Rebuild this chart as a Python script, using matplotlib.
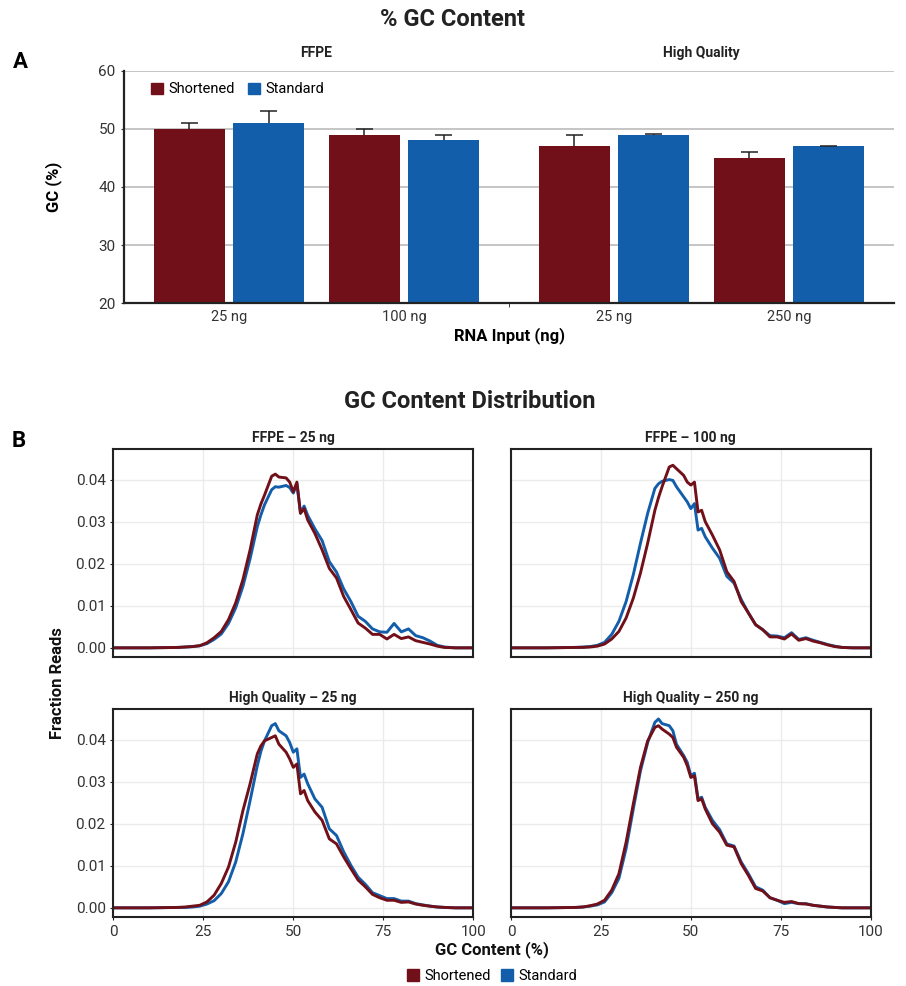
import numpy as np
import matplotlib
matplotlib.use("Agg")
import matplotlib.pyplot as plt
from matplotlib.patches import Patch

plt.rcParams["font.family"] = ["Roboto", "DejaVu Sans"]

# ── colours ───────────────────────────────────────────────
RED = "#721019"
BLUE = "#135EAB"
DARK = "#222222"
GRID_A = "#b5b5b5"
GRID_B = "#ebebeb"

# ── Panel A data ──────────────────────────────────────────
groups = ["25 ng", "100 ng", "25 ng", "250 ng"]
facet_names = ["FFPE", "High Quality"]
short_mean = [50.0, 48.9, 47.0, 45.0]
short_err = [1.0, 1.1, 2.0, 1.0]
std_mean = [51.0, 48.1, 48.9, 47.0]
std_err = [2.0, 0.9, 0.15, 0.1]

# ── Panel B data (fraction of reads per GC bin) ───────────
gc_x = [0, 10, 18, 20, 22, 24, 26, 28, 30, 32, 34, 36, 38, 40, 41, 42, 44, 45, 46,
        48, 49, 50, 51, 52, 53, 54, 56, 58, 60, 62, 64, 66, 68, 70, 72, 74, 76,
        78, 80, 82, 84, 86, 88, 90, 92, 95, 100]

ffpe25_short = [0, 0, 0.0001, 0.0002, 0.0003, 0.0005, 0.0012, 0.0024, 0.0039, 0.0067,
                0.0107, 0.0162, 0.0233, 0.0316, 0.0342, 0.0363, 0.0408, 0.0413, 0.0406,
                0.0404, 0.0394, 0.0371, 0.0394, 0.0320, 0.0331, 0.0304, 0.0272, 0.0233,
                0.0189, 0.0166, 0.0122, 0.0091, 0.0059, 0.0047, 0.0032, 0.0032, 0.0021,
                0.0032, 0.0022, 0.0026, 0.0017, 0.0013, 0.0009, 0.0004, 0.0001, 0, 0]
ffpe25_std = [0, 0, 0.0001, 0.0002, 0.0003, 0.0005, 0.0010, 0.0020, 0.0033, 0.0058,
              0.0095, 0.0146, 0.0212, 0.0288, 0.0316, 0.0340, 0.0376, 0.0383, 0.0382,
              0.0386, 0.0381, 0.0368, 0.0390, 0.0320, 0.0337, 0.0315, 0.0283, 0.0255,
              0.0205, 0.0180, 0.0140, 0.0110, 0.0075, 0.0063, 0.0045, 0.0038, 0.0037,
              0.0058, 0.0038, 0.0045, 0.0029, 0.0024, 0.0016, 0.0006, 0.0002, 0, 0]

ffpe100_short = [0, 0, 0.0001, 0.0001, 0.0002, 0.0004, 0.0009, 0.0021, 0.0039, 0.0071,
                 0.0118, 0.0178, 0.0249, 0.0327, 0.0357, 0.0383, 0.0430, 0.0434, 0.0426,
                 0.0410, 0.0394, 0.0387, 0.0394, 0.0323, 0.0327, 0.0300, 0.0268, 0.0233,
                 0.0181, 0.0158, 0.0110, 0.0083, 0.0055, 0.0043, 0.0026, 0.0026, 0.0021,
                 0.0033, 0.0018, 0.0022, 0.0016, 0.0012, 0.0007, 0.0003, 0.0001, 0, 0]
ffpe100_std = [0, 0, 0.0001, 0.0002, 0.0003, 0.0006, 0.0013, 0.0032, 0.0063, 0.0110,
               0.0174, 0.0249, 0.0320, 0.0379, 0.0390, 0.0396, 0.0400, 0.0398, 0.0383,
               0.0359, 0.0347, 0.0331, 0.0343, 0.0280, 0.0284, 0.0264, 0.0237, 0.0213,
               0.0170, 0.0154, 0.0115, 0.0083, 0.0055, 0.0043, 0.0029, 0.0028, 0.0024,
               0.0036, 0.0020, 0.0024, 0.0018, 0.0013, 0.0008, 0.0004, 0.0001, 0, 0]

hq25_short = [0, 0, 0.0001, 0.0002, 0.0004, 0.0006, 0.0014, 0.0030, 0.0058, 0.0097,
              0.0156, 0.0231, 0.0295, 0.0366, 0.0385, 0.0397, 0.0405, 0.0409, 0.0389,
              0.0370, 0.0354, 0.0334, 0.0342, 0.0271, 0.0279, 0.0255, 0.0228, 0.0208,
              0.0164, 0.0152, 0.0121, 0.0093, 0.0066, 0.0050, 0.0032, 0.0024, 0.0018,
              0.0018, 0.0013, 0.0014, 0.0009, 0.0006, 0.0004, 0.0002, 0.0001, 0, 0]
hq25_std = [0, 0, 0.0001, 0.0001, 0.0002, 0.0004, 0.0009, 0.0017, 0.0034, 0.0062,
            0.0109, 0.0176, 0.0255, 0.0338, 0.0372, 0.0397, 0.0433, 0.0438, 0.0421,
            0.0409, 0.0393, 0.0370, 0.0378, 0.0310, 0.0318, 0.0295, 0.0259, 0.0239,
            0.0188, 0.0172, 0.0133, 0.0101, 0.0073, 0.0056, 0.0036, 0.0029, 0.0022,
            0.0022, 0.0016, 0.0016, 0.0010, 0.0007, 0.0004, 0.0002, 0.0001, 0, 0]

hq250_short = [0, 0, 0.0001, 0.0002, 0.0005, 0.0009, 0.0018, 0.0042, 0.0081, 0.0156,
               0.0247, 0.0334, 0.0397, 0.0429, 0.0433, 0.0425, 0.0413, 0.0405, 0.0382,
               0.0358, 0.0338, 0.0310, 0.0314, 0.0255, 0.0259, 0.0235, 0.0200, 0.0180,
               0.0149, 0.0145, 0.0105, 0.0077, 0.0046, 0.0040, 0.0024, 0.0018, 0.0013,
               0.0015, 0.0010, 0.0009, 0.0006, 0.0004, 0.0002, 0.0001, 0, 0, 0]
hq250_std = [0, 0, 0.0001, 0.0002, 0.0004, 0.0007, 0.0014, 0.0036, 0.0070, 0.0141,
             0.0235, 0.0326, 0.0393, 0.0441, 0.0449, 0.0438, 0.0433, 0.0421, 0.0389,
             0.0362, 0.0346, 0.0314, 0.0320, 0.0259, 0.0263, 0.0239, 0.0208, 0.0186,
             0.0152, 0.0147, 0.0109, 0.0081, 0.0050, 0.0042, 0.0024, 0.0018, 0.0010,
             0.0013, 0.0010, 0.0010, 0.0006, 0.0004, 0.0002, 0.0001, 0, 0, 0]

panels = [
    ("FFPE – 25 ng", ffpe25_short, ffpe25_std),
    ("FFPE – 100 ng", ffpe100_short, ffpe100_std),
    ("High Quality – 25 ng", hq25_short, hq25_std),
    ("High Quality – 250 ng", hq250_short, hq250_std),
]

# ── Figure, laid out in pixels ────────────────────────────
W, H = 906, 986
fig = plt.figure(figsize=(W / 100, H / 100), dpi=100, facecolor="white")


def px_axes(left, top, right, bottom):
    return fig.add_axes([left / W, 1 - bottom / H, (right - left) / W, (bottom - top) / H])


# ── A: bar chart ──────────────────────────────────────────
axA = px_axes(124, 70.7, 894, 303.3)
facet_gap = 1.2
xpos = np.array([0, 1, 1 + facet_gap, 2 + facet_gap])
bw = 0.405
off = 0.226
cap = 0.05

axA.bar(xpos - off, short_mean, bw, color=RED, zorder=2)
axA.bar(xpos + off, std_mean, bw, color=BLUE, zorder=2)
# upper-only error bars: stem from bar top plus a cap
for xs, m, e in [(xpos - off, short_mean, short_err), (xpos + off, std_mean, std_err)]:
    top = np.array(m) + np.array(e)
    axA.vlines(xs, m, top, color=DARK, lw=1.1, zorder=3)
    axA.hlines(top, xs - cap, xs + cap, color=DARK, lw=1.1, zorder=3)

axA.set_xlim(-0.6, 3.8)
axA.set_ylim(20, 60)
axA.set_yticks([20, 30, 40, 50, 60])
axA.set_xticks(xpos)
axA.set_xticklabels(groups)
axA.set_xticks([1.6], minor=True)
axA.tick_params(axis="x", which="major", length=0, pad=5, labelsize=10.5, colors="#333333")
axA.tick_params(axis="x", which="minor", length=3, color=DARK)
axA.tick_params(axis="y", length=2, pad=4, labelsize=11, colors="#333333")
axA.yaxis.grid(True, color=GRID_A, lw=1.1, zorder=0)
axA.set_axisbelow(True)
for s in ["top", "right"]:
    axA.spines[s].set_visible(False)
for s in ["left", "bottom"]:
    axA.spines[s].set_color(DARK)
    axA.spines[s].set_linewidth(1.6)

axA.set_ylabel("GC (%)", fontsize=12, fontweight="bold", labelpad=26)
axA.set_xlabel("RNA Input (ng)", fontsize=12, fontweight="bold", labelpad=2)
for fx, name in zip([0.5, 1.5 + facet_gap], facet_names):
    axA.text(fx, 61.8, name, ha="center", va="bottom", fontsize=10,
             fontweight="bold", color="#222222")
axA.legend(handles=[Patch(color=RED, label="Shortened"), Patch(color=BLUE, label="Standard")],
           loc="upper left", bbox_to_anchor=(0.028, 0.975), ncol=2, frameon=False,
           fontsize=10.5, handlelength=0.8, handleheight=0.8, handletextpad=0.4,
           columnspacing=0.9, borderaxespad=0)

# ── B: GC distributions ───────────────────────────────────
boxes = [(113.3, 449.3, 473.3, 657.3), (511, 449.3, 870.7, 657.3),
         (113.3, 709.3, 473.3, 917.3), (511, 709.3, 870.7, 917.3)]
for i, ((title, ys, ystd), box) in enumerate(zip(panels, boxes)):
    ax = px_axes(*box)
    ax.plot(gc_x, ystd, color=BLUE, lw=2.1, solid_joinstyle="round")
    ax.plot(gc_x, ys, color=RED, lw=2.1, solid_joinstyle="round")
    ax.set_xlim(0, 100)
    ax.set_ylim(-0.00225, 0.0472)
    ax.set_xticks([0, 25, 50, 75, 100])
    ax.set_yticks([0, 0.01, 0.02, 0.03, 0.04])
    ax.set_yticklabels(["0.00", "0.01", "0.02", "0.03", "0.04"])
    ax.grid(True, color=GRID_B, lw=1.0)
    ax.set_axisbelow(True)
    for s in ax.spines.values():
        s.set_color(DARK)
        s.set_linewidth(1.5)
    ax.tick_params(length=2.5, color=DARK, labelsize=11, labelcolor="#333333", pad=3)
    if i % 2 == 1:
        ax.tick_params(axis="y", labelleft=False, length=0)
    if i < 2:
        ax.tick_params(axis="x", labelbottom=False, length=0)
    ax.set_title(title, fontsize=10, fontweight="bold", color="#222222", pad=5)

fig.text(470 / W, 1 - 402 / H, "GC Content Distribution", ha="center", va="center",
         fontsize=17, fontweight="bold", color="#222222")
fig.text(453 / W, 1 - 20 / H, "% GC Content", ha="center", va="center",
         fontsize=17, fontweight="bold", color="#222222")
fig.text(58 / W, 1 - 683 / H, "Fraction Reads", ha="center", va="center", rotation=90,
         fontsize=12, fontweight="bold", color="#111111")
fig.text(492 / W, 1 - 950 / H, "GC Content (%)", ha="center", va="center",
         fontsize=12, fontweight="bold", color="#111111")
fig.legend(handles=[Patch(color=RED, label="Shortened"), Patch(color=BLUE, label="Standard")],
           loc="center", bbox_to_anchor=(492 / W, 1 - 976 / H), ncol=2, frameon=False,
           fontsize=10.5, handlelength=0.8, handleheight=0.8, handletextpad=0.4,
           columnspacing=0.7, borderaxespad=0)

fig.text(20 / W, 1 - 62 / H, "A", ha="center", va="center", fontsize=16, fontweight="bold")
fig.text(19 / W, 1 - 441 / H, "B", ha="center", va="center", fontsize=16, fontweight="bold")

fig.savefig("out.png", dpi=100, facecolor="white")
